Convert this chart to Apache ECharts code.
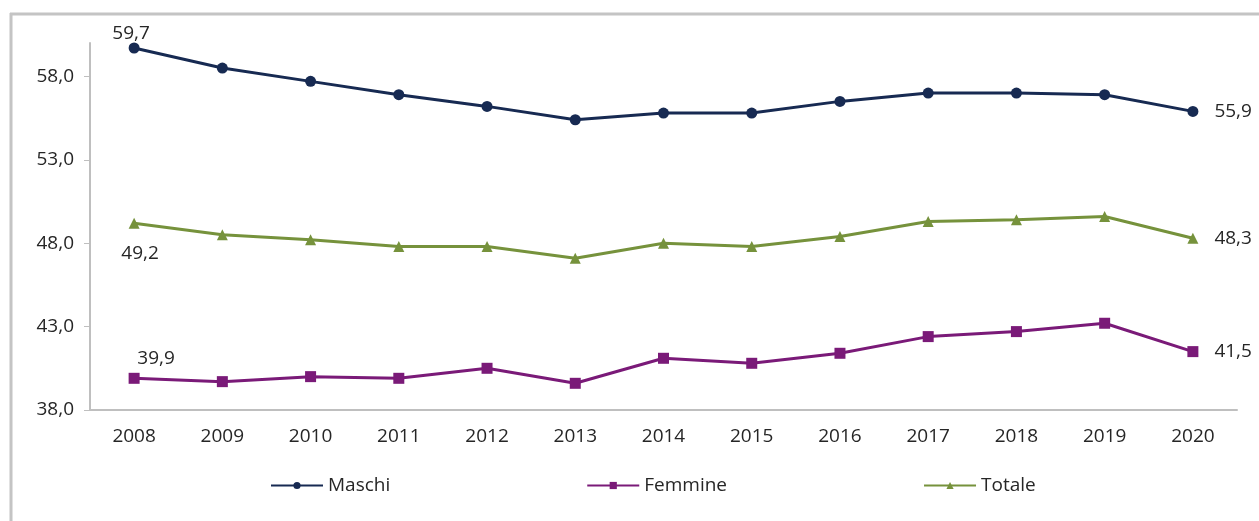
<!DOCTYPE html>
<html>
<head>
<meta charset="utf-8">
<script src="https://cdn.jsdelivr.net/npm/echarts@6/dist/echarts.min.js"></script>
<style>
  html, body { margin: 0; padding: 0; background: #fff; }
  #chart { width: 1259px; height: 521px; }
</style>
</head>
<body>
<div id="chart"></div>
<script>
// dati
const anni = ['2008', '2009', '2010', '2011', '2012', '2013', '2014', '2015', '2016', '2017', '2018', '2019', '2020'];
const maschi = [59.7, 58.5, 57.7, 56.9, 56.2, 55.4, 55.8, 55.8, 56.5, 57.0, 57.0, 56.9, 55.9];
const femmine = [39.9, 39.7, 40.0, 39.9, 40.5, 39.6, 41.1, 40.8, 41.4, 42.4, 42.7, 43.2, 41.5];
const totale = [49.2, 48.5, 48.2, 47.8, 47.8, 47.1, 48.0, 47.8, 48.4, 49.3, 49.4, 49.6, 48.3];
const yTicks = [38, 43, 48, 53, 58];

const font = '"Open Sans", sans-serif';
const fs = 19;
const fmt = v => v.toFixed(1).replace('.', ',');

// etichette solo sul primo e ultimo punto
function etichette(values, firstPos, firstOffset) {
  return values.map((v, i) => {
    if (i === 0) {
      return { value: v, label: { show: true, position: firstPos, offset: firstOffset } };
    }
    if (i === values.length - 1) {
      return { value: v, label: { show: true, position: 'right', distance: 16 } };
    }
    return v;
  });
}

function serie(name, values, color, symbol, size, firstPos, firstOffset) {
  return {
    name,
    type: 'line',
    data: etichette(values, firstPos, firstOffset),
    symbol,
    symbolSize: size,
    lineStyle: { color, width: 3 },
    itemStyle: { color },
    label: {
      show: false,
      color: '#262626',
      fontFamily: font,
      fontSize: fs,
      formatter: p => fmt(p.value)
    },
    animation: false
  };
}

const chart = echarts.init(document.getElementById('chart'), null, { renderer: 'canvas' });
chart.setOption({
  backgroundColor: '#fff',
  graphic: [
    { type: 'line', shape: { x1: 11, y1: 13, x2: 11, y2: 521 }, style: { stroke: '#c4c4c4', lineWidth: 3 } },
    { type: 'line', shape: { x1: 10, y1: 14, x2: 1259, y2: 14 }, style: { stroke: '#c4c4c4', lineWidth: 3 } }
  ],
  grid: { left: 90, right: 22, top: 43, bottom: 111 },
  legend: {
    left: 265,
    top: 471,
    itemWidth: 52,
    itemHeight: 9,
    itemGap: 196,
    textStyle: { fontFamily: font, fontSize: fs, color: '#262626' },
    data: ['Maschi', 'Femmine', 'Totale']
  },
  xAxis: {
    type: 'category',
    data: anni,
    boundaryGap: true,
    axisLine: { lineStyle: { color: '#bfbfbf', width: 2 } },
    axisTick: { show: false },
    axisLabel: { fontFamily: font, fontSize: fs, color: '#262626', margin: 17 }
  },
  yAxis: {
    type: 'value',
    min: yTicks[0],
    max: 60,
    interval: yTicks[1] - yTicks[0],
    splitLine: { show: false },
    axisLine: { show: true, lineStyle: { color: '#bfbfbf', width: 2 } },
    axisTick: { show: true, inside: false, length: 6, lineStyle: { color: '#bfbfbf' } },
    axisLabel: {
      fontFamily: font, fontSize: fs, color: '#262626', margin: 16,
      showMaxLabel: false,
      formatter: v => (yTicks.includes(v) ? fmt(v) : '')
    }
  },
  series: [
    serie('Maschi', maschi, '#172a52', 'circle', 11, 'top', [-3, 6]),
    serie('Femmine', femmine, '#7a1a78', 'rect', 11, 'top', [22, 0]),
    serie('Totale', totale, '#76923c', 'triangle', 11, 'bottom', [6, 10])
  ]
});
</script>
</body>
</html>
